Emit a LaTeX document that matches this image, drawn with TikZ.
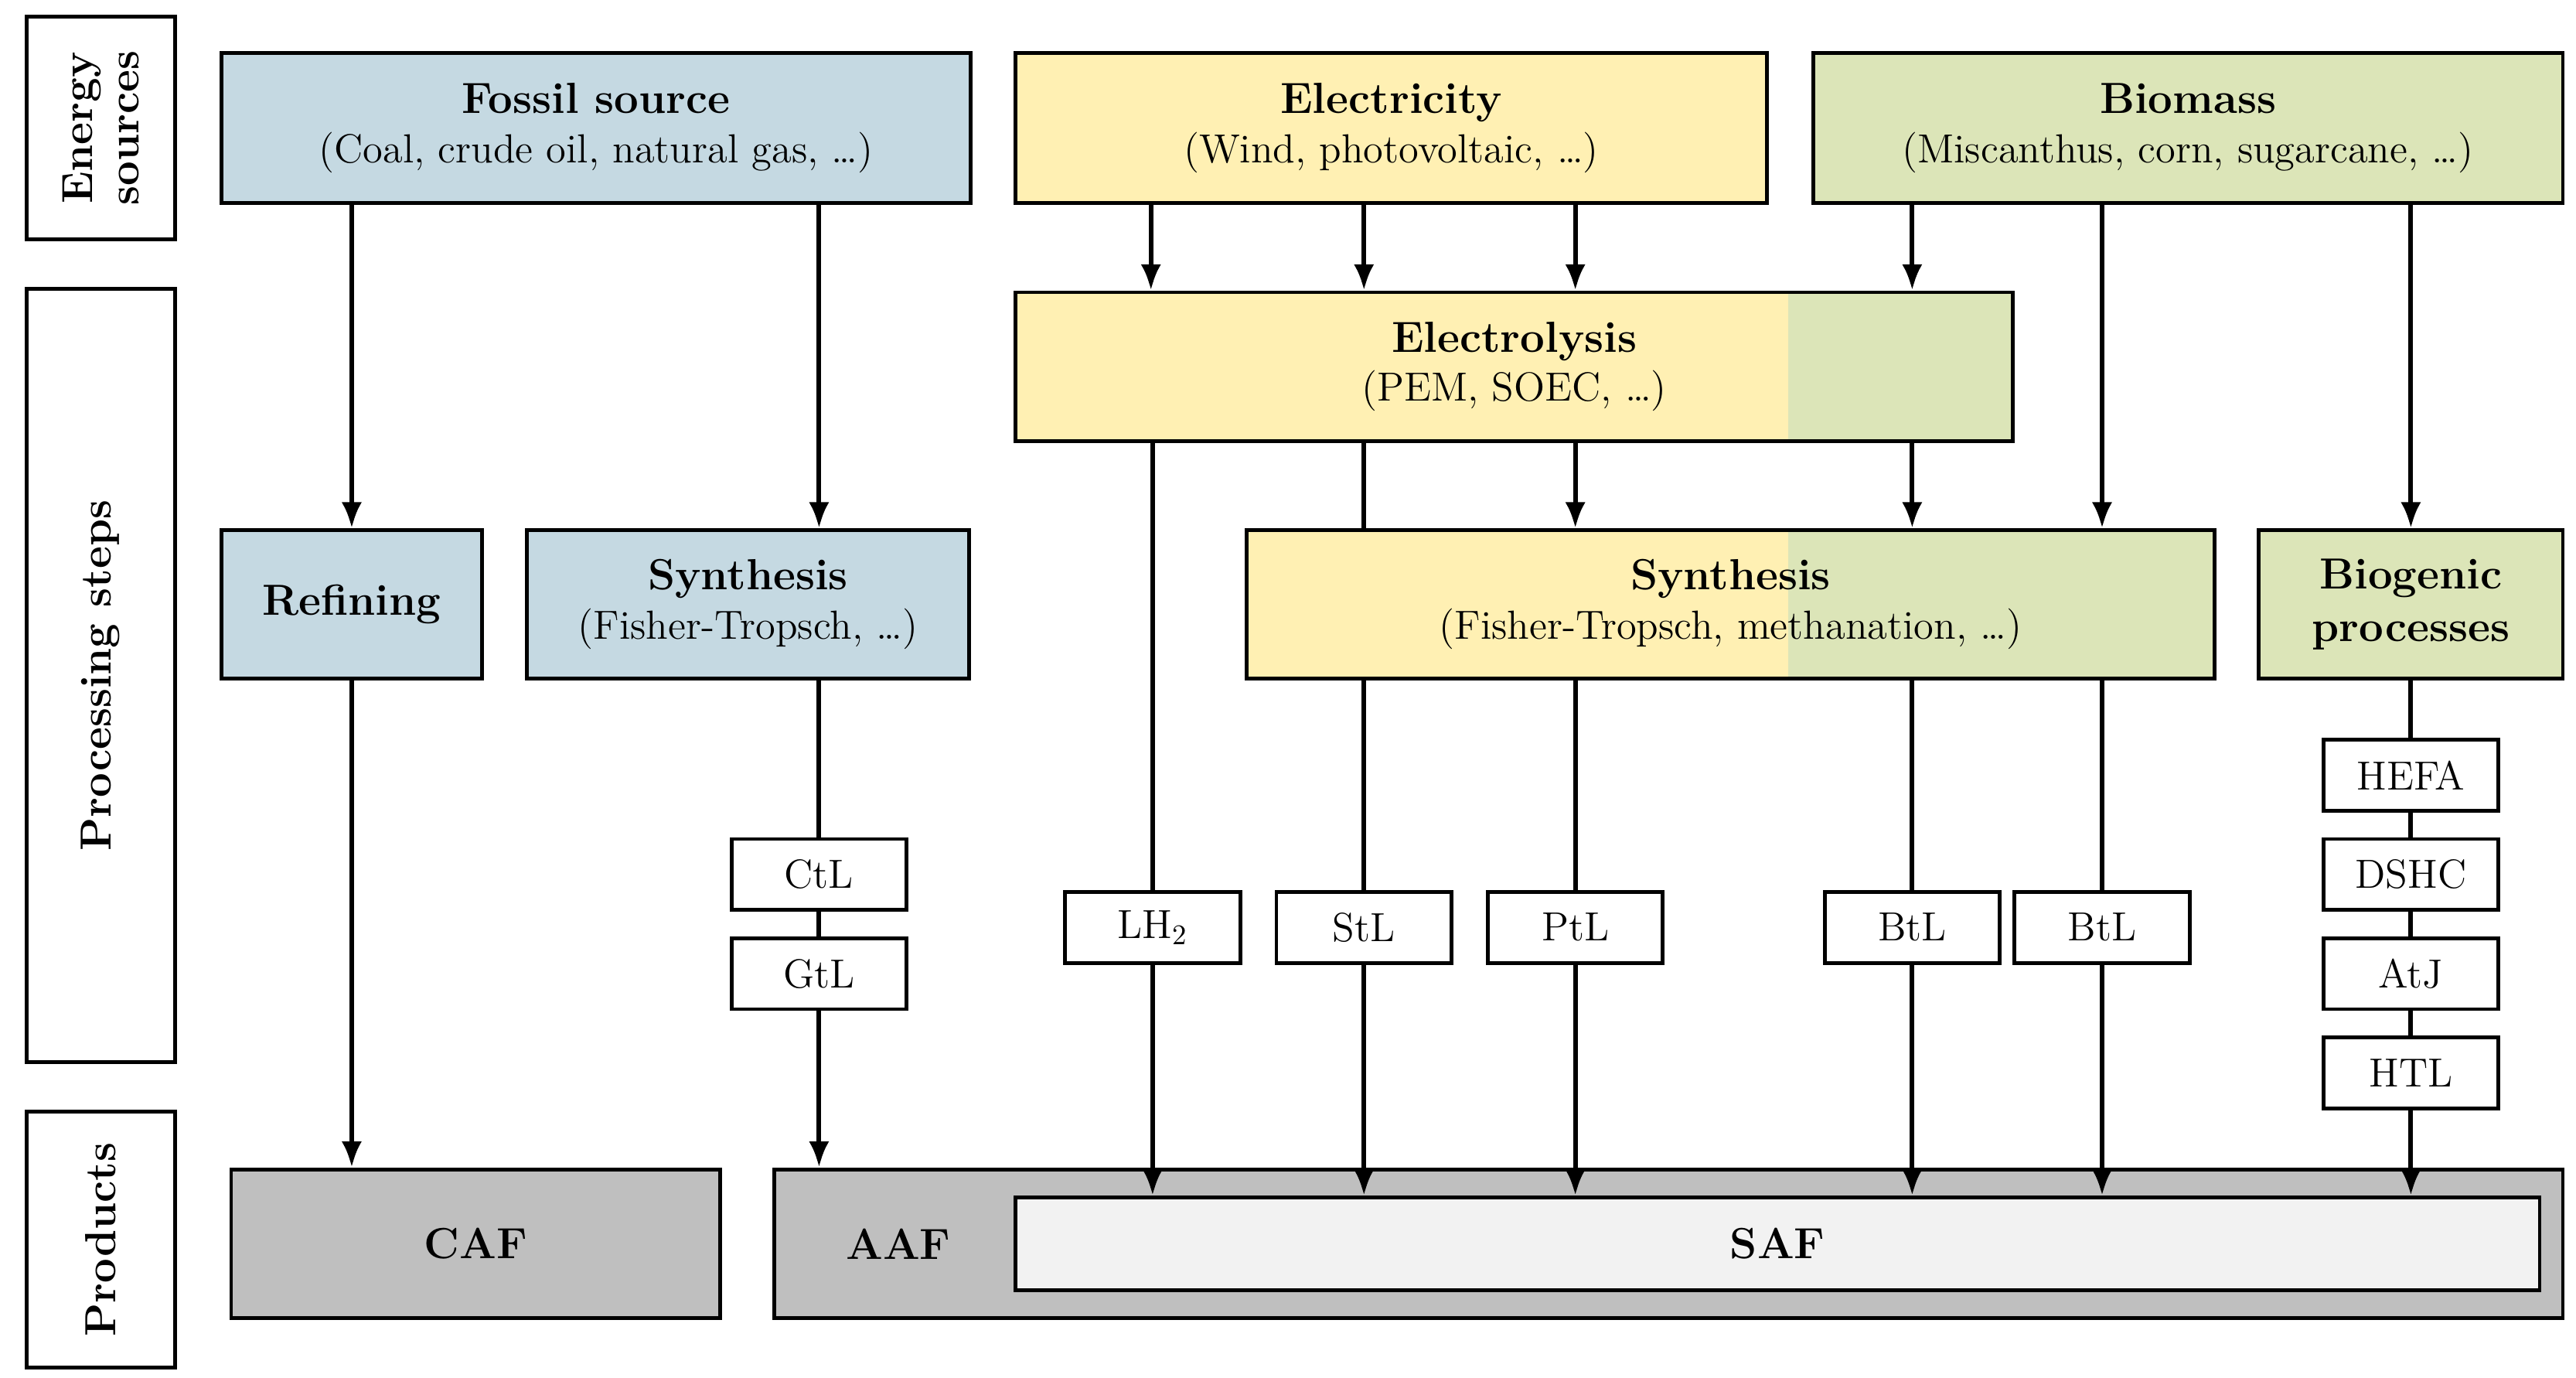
\documentclass[tikz,border=0pt]{standalone}
\usetikzlibrary{arrows.meta}
\definecolor{cb}{HTML}{C5D9E2}
\definecolor{cy}{HTML}{FFF0B3}
\definecolor{cg}{HTML}{DCE5B8}
\definecolor{cd}{HTML}{BFBFBF}
\definecolor{cl}{HTML}{F2F2F2}
\newcommand{\bx}[7]{%
 \pgfmathsetmacro\bw{(#4-#2)*0.02}\pgfmathsetmacro\bh{(#5-#3)*0.02}%
 \node[box,#6,minimum width=\bw cm,minimum height=\bh cm] (#1) at ({(#2+#4)/2},{(#3+#5)/2}) {#7};}
\begin{document}
\begin{tikzpicture}[x=0.02cm,y=-0.02cm,
 box/.style={draw,line width=1.3pt,align=center,inner sep=0pt,font=\fontsize{14}{17}\selectfont},
 t/.style={font=\fontsize{15}{18}\selectfont\bfseries},
 sm/.style={fill=white},
 ar/.style={line width=1.6pt,-{Latex[length=9pt,width=7pt]}},
 ln/.style={line width=1.6pt}]
\useasboundingbox (0,0) rectangle (1560,834);
% side labels
\bx{es}{16}{10}{106}{145}{}{}
\node[rotate=90,align=center,font=\fontsize{15}{16}\selectfont\bfseries] at (es) {Energy\\sources};
\bx{ps}{16}{175}{106}{643}{}{}
\node[rotate=90,font=\fontsize{15}{18}\selectfont\bfseries] at (ps) {Processing steps};
\bx{pr}{16}{673}{106}{828}{}{}
\node[rotate=90,font=\fontsize{15}{18}\selectfont\bfseries] at (pr) {Products};
% sources
\bx{fos}{134}{32}{588}{123}{fill=cb}{{\bfseries\fontsize{15}{18}\selectfont Fossil source}\\(Coal, crude oil, natural gas, \dots)}
\bx{ele}{615}{32}{1070}{123}{fill=cy}{{\bfseries\fontsize{15}{18}\selectfont Electricity}\\(Wind, photovoltaic, \dots)}
\bx{bio}{1098}{32}{1552}{123}{fill=cg}{{\bfseries\fontsize{15}{18}\selectfont Biomass}\\(Miscanthus, corn, sugarcane, \dots)}
% electrolysis
\fill[cy] (615,177) rectangle (1083,267);
\fill[cg] (1083,177) rectangle (1219,267);
\bx{ely}{615}{177}{1219}{267}{}{{\bfseries\fontsize{15}{18}\selectfont Electrolysis}\\(PEM, SOEC, \dots)}
% processing
\bx{ref}{134}{321}{292}{411}{fill=cb,t}{Refining}
\bx{syf}{319}{321}{587}{411}{fill=cb}{{\bfseries\fontsize{15}{18}\selectfont Synthesis}\\(Fisher-Tropsch, \dots)}
\fill[cy] (755,321) rectangle (1083,411);
\fill[cg] (1083,321) rectangle (1341,411);
\bx{syn}{755}{321}{1341}{411}{}{{\bfseries\fontsize{15}{18}\selectfont Synthesis}\\(Fisher-Tropsch, methanation, \dots)}
\bx{bgp}{1368}{321}{1552}{411}{fill=cg,t}{Biogenic\\processes}
% products
\bx{caf}{140}{708}{436}{798}{fill=cd,t}{CAF}
\bx{aaf}{469}{708}{1552}{798}{fill=cd}{}
\node[t] at (544,753) {AAF};
\bx{saf}{615}{725}{1538}{781}{fill=cl,t}{SAF}
% small boxes
\bx{ctl}{443}{508}{549}{551}{sm}{CtL}
\bx{gtl}{443}{568}{549}{611}{sm}{GtL}
\bx{lh}{645}{540}{751}{583}{sm}{LH\textsubscript{2}}
\bx{stl}{773}{540}{879}{583}{sm}{StL}
\bx{ptl}{901}{540}{1007}{583}{sm}{PtL}
\bx{btla}{1105}{540}{1211}{583}{sm}{BtL}
\bx{btlb}{1220}{540}{1326}{583}{sm}{BtL}
\bx{hefa}{1407}{448}{1513}{491}{sm}{HEFA}
\bx{dshc}{1407}{508}{1513}{551}{sm}{DSHC}
\bx{atj}{1407}{568}{1513}{611}{sm}{AtJ}
\bx{htl}{1407}{628}{1513}{671}{sm}{HTL}
% connectors
\draw[ar] (fos.south-|ref.north) -- (ref.north);
\draw[ar] (ref.south) -- (caf.north-|ref.south);
\draw[ar] (fos.south-|ctl.north) -- (syf.north-|ctl.north);
\draw[ln] (syf.south-|ctl.north) -- (ctl.north);
\draw[ln] (ctl.south) -- (gtl.north);
\draw[ar] (gtl.south) -- (aaf.north-|gtl.south);
\foreach \xx in {697,826,954} \draw[ar] (ele.south-|\xx,0) -- (ely.north-|\xx,0);
\draw[ar] (bio.south-|btla.north) -- (ely.north-|btla.north);
\draw[ar] (bio.south-|btlb.north) -- (syn.north-|btlb.north);
\draw[ar] (bio.south-|bgp.north) -- (bgp.north);
\draw[ln] (ely.south-|lh.north) -- (lh.north);
\draw[ln] (ely.south-|stl.north) -- (syn.north-|stl.north);
\draw[ar] (ely.south-|ptl.north) -- (syn.north-|ptl.north);
\draw[ar] (ely.south-|btla.north) -- (syn.north-|btla.north);
\foreach \b in {stl,ptl,btla,btlb} \draw[ln] (syn.south-|\b.north) -- (\b.north);
\foreach \b in {lh,stl,ptl,btla,btlb,htl} \draw[ar] (\b.south) -- (saf.north-|\b.south);
\draw[ln] (bgp.south) -- (hefa.north);
\draw[ln] (hefa.south) -- (dshc.north);
\draw[ln] (dshc.south) -- (atj.north);
\draw[ln] (atj.south) -- (htl.north);
\end{tikzpicture}
\end{document}
